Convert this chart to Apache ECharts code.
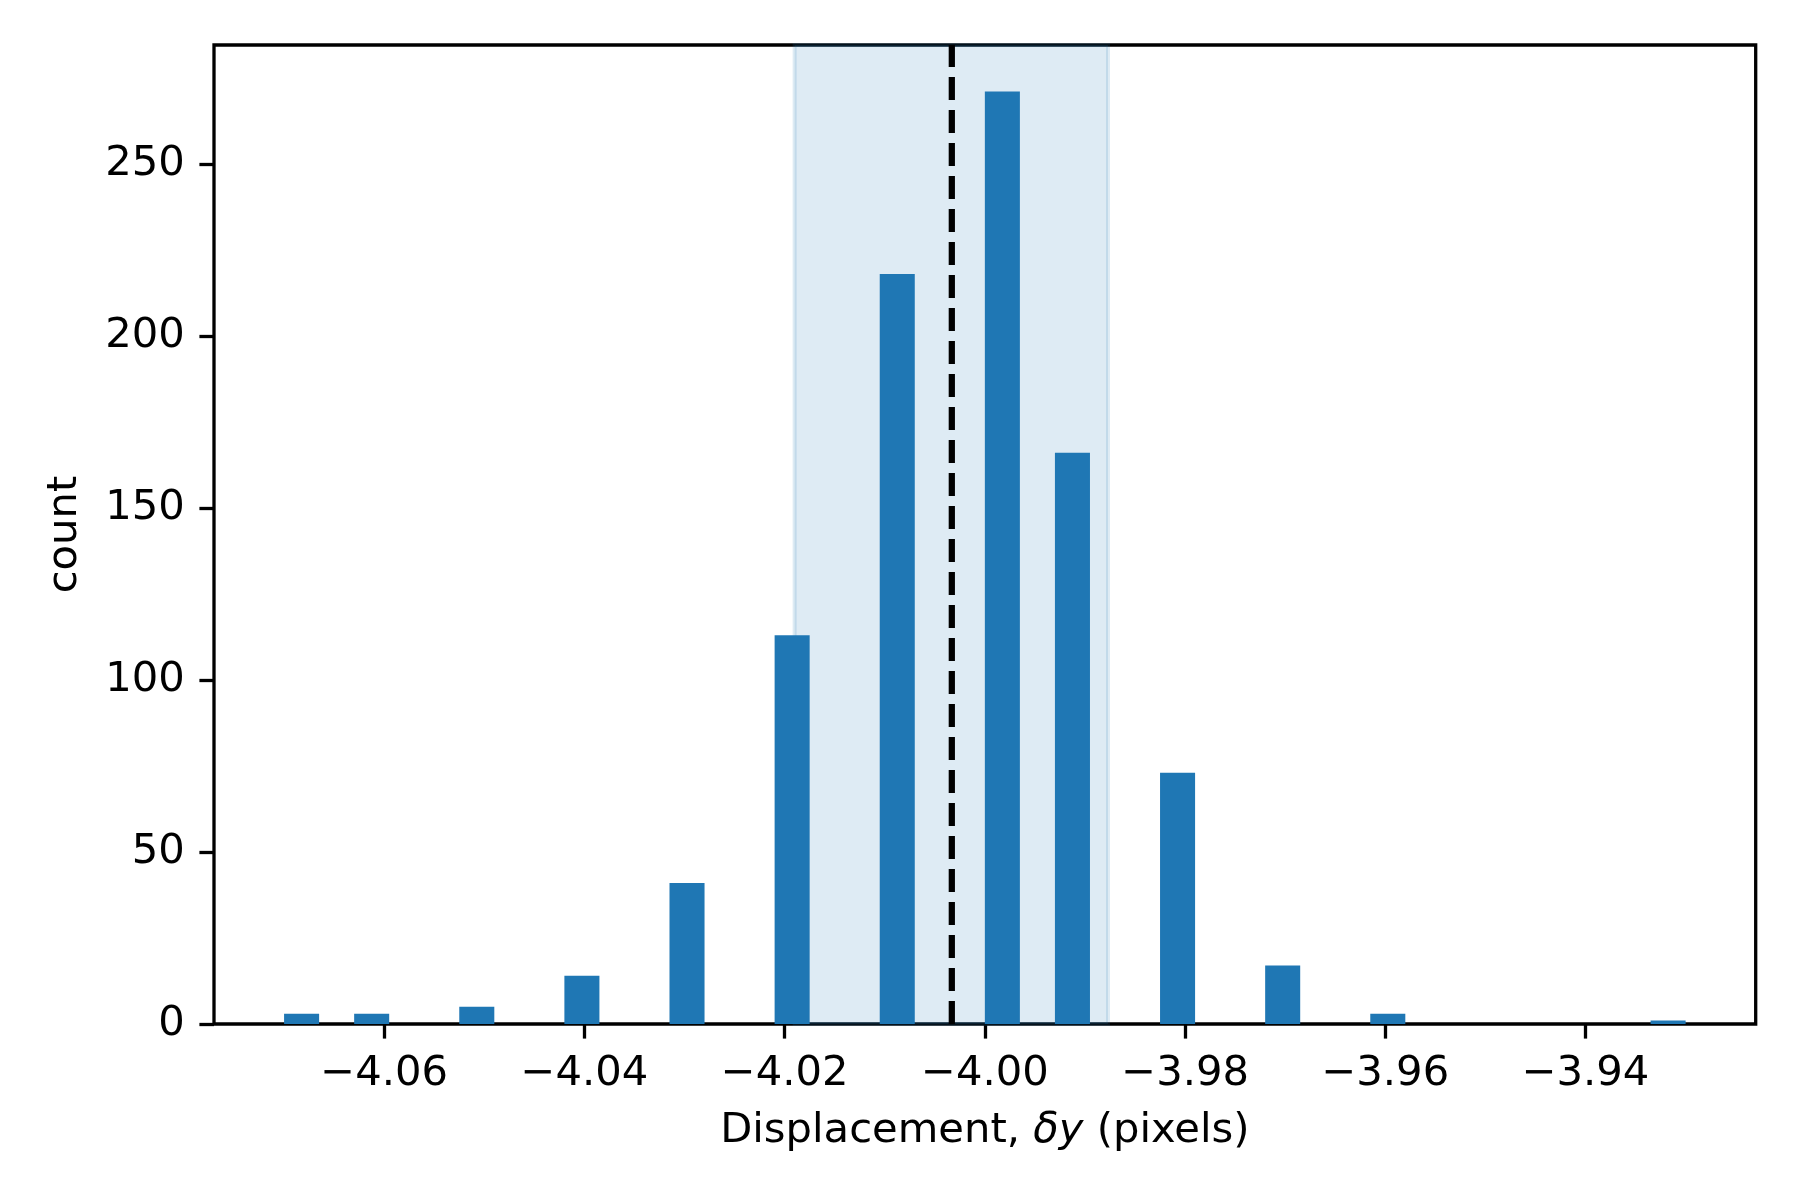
<!DOCTYPE html>
<html>
<head>
<meta charset="utf-8">
<script src="https://cdn.jsdelivr.net/npm/echarts@6/dist/echarts.min.js"></script>
<style>
html,body{margin:0;padding:0;background:#fff;}
#chart{width:1800px;height:1200px;}
</style>
</head>
<body>
<div id="chart"></div>
<script>
// Histogram data (bin left edges, counts)
const binLefts = [-4.0700, -4.0630, -4.0525, -4.0420, -4.0315, -4.0210, -4.0105, -4.0000, -3.9930, -3.9825, -3.9720, -3.9615, -3.9335];
const counts   = [3, 3, 5, 14, 41, 113, 218, 271, 166, 73, 17, 3, 1];
const binWidth = 0.0035;
// Mean and +/- 1 sigma band
const meanValue = -4.0033;
const bandRange = [-4.0190, -3.9877];
// Axis ticks
const xTicks = [-4.06, -4.04, -4.02, -4.00, -3.98, -3.96, -3.94];
const yTicks = [0, 50, 100, 150, 200, 250];
const xRange = [-4.077, -3.923];
const yRange = [0, 284.55];

const FONT = 'DejaVu Sans';
const FS = 41.7;
const LW = 3.3;

const chart = echarts.init(document.getElementById('chart'), null, {renderer: 'canvas'});

const barData = binLefts.map((x, i) => [x, counts[i]]);

chart.setOption({
  backgroundColor: '#ffffff',
  animation: false,
  grid: {
    left: 214, top: 45, right: 44.3, bottom: 176,
    show: true, borderColor: '#000', borderWidth: LW, backgroundColor: 'transparent'
  },
  xAxis: {
    type: 'value',
    min: xRange[0], max: xRange[1],
    name: 'Displacement, {it|δy} (pixels)',
    nameLocation: 'middle',
    nameGap: 86,
    nameTextStyle: {
      fontFamily: FONT, fontSize: FS, color: '#000',
      rich: { it: { fontFamily: FONT, fontSize: FS, fontStyle: 'italic', color: '#000' } }
    },
    axisLine: {show: false},
    splitLine: {show: false},
    axisTick: {show: true, inside: false, length: 14.6, lineStyle: {color: '#000', width: LW}, customValues: xTicks},
    axisLabel: {
      show: true, margin: 29.2, color: '#000', fontFamily: FONT, fontSize: FS,
      customValues: xTicks,
      formatter: v => (v < 0 ? '\u2212' : '') + Math.abs(v).toFixed(2)
    }
  },
  yAxis: {
    type: 'value',
    min: yRange[0], max: yRange[1],
    name: 'count',
    nameLocation: 'middle',
    nameRotate: 90,
    nameGap: 128,
    nameTextStyle: {fontFamily: FONT, fontSize: FS, color: '#000'},
    axisLine: {show: false},
    splitLine: {show: false},
    axisTick: {show: true, inside: false, length: 14.6, lineStyle: {color: '#000', width: LW}, customValues: yTicks},
    axisLabel: {
      show: true, margin: 29.2, color: '#000', fontFamily: FONT, fontSize: FS,
      customValues: yTicks,
      formatter: v => String(v)
    }
  },
  series: [
    {
      type: 'custom',
      z: 1,
      silent: true,
      data: [[bandRange[0], bandRange[1]]],
      renderItem: function (params, api) {
        const p0 = api.coord([api.value(0), yRange[0]]);
        const p1 = api.coord([api.value(1), yRange[1]]);
        return {
          type: 'rect',
          shape: {x: p0[0], y: p1[1], width: p1[0] - p0[0], height: p0[1] - p1[1]},
          style: {fill: 'rgba(31,119,180,0.15)', stroke: 'rgba(31,119,180,0.15)', lineWidth: 4}
        };
      }
    },
    {
      type: 'custom',
      z: 2,
      data: barData,
      renderItem: function (params, api) {
        const x0 = api.value(0), c = api.value(1);
        const p0 = api.coord([x0, 0]);
        const p1 = api.coord([x0 + binWidth, c]);
        return {
          type: 'rect',
          shape: {x: p0[0], y: p1[1], width: p1[0] - p0[0], height: p0[1] - p1[1]},
          style: {fill: '#1f77b4'}
        };
      }
    },
    {
      type: 'line',
      z: 3,
      symbol: 'none',
      silent: true,
      data: [[meanValue, yRange[0]], [meanValue, yRange[1]]],
      lineStyle: {color: '#000', width: 6.25, type: [23, 10]}
    }
  ]
});
</script>
</body>
</html>
